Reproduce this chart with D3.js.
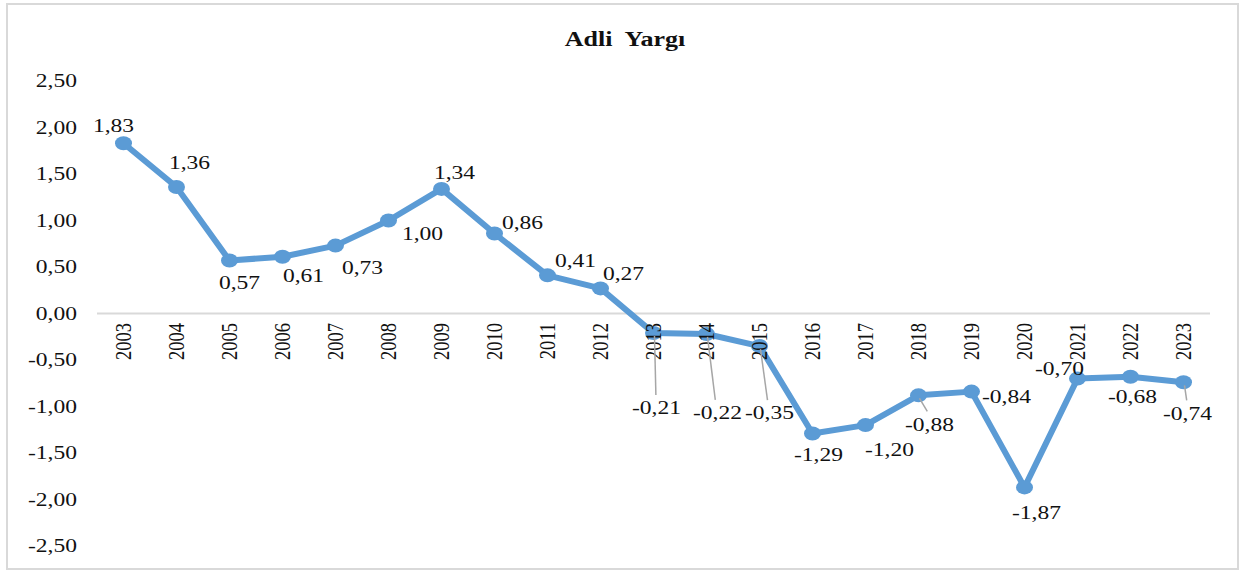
<!DOCTYPE html>
<html>
<head>
<meta charset="utf-8">
<script src="https://cdn.jsdelivr.net/npm/d3@7"></script>
<style>
  body { margin: 0; background: #fff; }
  svg { display: block; }
  text { font-family: "Liberation Serif", "Times New Roman", serif; fill: #111; white-space: pre; }
</style>
</head>
<body>
<svg id="chart" width="1244" height="572"></svg>
<script>
const years = ['2003', '2004', '2005', '2006', '2007', '2008', '2009', '2010', '2011', '2012',
    '2013', '2014', '2015', '2016', '2017', '2018', '2019', '2020', '2021', '2022', '2023'];
const values = [1.83, 1.36, 0.57, 0.61, 0.73, 1.00, 1.34, 0.86, 0.41, 0.27,
    -0.21, -0.22, -0.35, -1.29, -1.20, -0.88, -0.84, -1.87, -0.70, -0.68, -0.74];
const yTicks = [2.5, 2, 1.5, 1, 0.5, 0, -0.5, -1, -1.5, -2, -2.5];
const title = 'Adli  Yargı';

// where each data label sits relative to its marker (Excel placed them by hand)
const labelOffsets = [
    [-10, -18], [13, -24], [10, 22], [21, 19], [27, 22], [34, 13], [13, -16], [28, -11],
    [28, -15], [23, -15], [3, 75], [11, 79], [10, 67], [6, 21], [24, 25], [11, 29],
    [35, 5], [12, 25], [-18, -10], [2, 20], [4, 31]
];
const leaders = [10, 11, 12, 15, 20];

const blue = '#5b9bd5';
const grey = '#d9d9d9';
const sx = 1.24;   // the source picture is stretched sideways, text too
const fmt = v => d3.format('.2f')(v).replace('.', ',').replace('−', '-');

const svg = d3.select('#chart');

const x = d3.scalePoint().domain(years).range([97, 1210]).padding(0.5);
const y = d3.scaleLinear().domain([-2.5, 2.5]).range([546, 81]);

svg.append('rect')
    .attr('x', 7).attr('y', 4)
    .attr('width', 1231).attr('height', 565)
    .attr('fill', '#fff')
    .attr('stroke', grey)
    .attr('stroke-width', 2);

function stretchedText(g, tx, ty, str, size, extra) {
    return g.append('g')
        .attr('transform', `translate(${tx},${ty}) scale(${sx},1)` + (extra || ''))
        .append('text')
        .style('font-size', size + 'px')
        .attr('dominant-baseline', 'central')
        .text(str);
}

// title
stretchedText(svg, 625, 39, title, 21)
    .attr('text-anchor', 'middle')
    .style('font-weight', 'bold');

// y axis labels
const yAxis = svg.append('g');
yTicks.forEach(t => {
    stretchedText(yAxis, 77, y(t), fmt(t), 19).attr('text-anchor', 'end');
});

// zero line
svg.append('line')
    .attr('x1', 97).attr('x2', 1210)
    .attr('y1', y(0)).attr('y2', y(0))
    .attr('stroke', grey)
    .attr('stroke-width', 2);

// series
const line = d3.line()
    .x((d, i) => x(years[i]))
    .y(d => y(d));

svg.append('path')
    .datum(values)
    .attr('d', line)
    .attr('fill', 'none')
    .attr('stroke', blue)
    .attr('stroke-width', 6)
    .attr('stroke-linejoin', 'round');

svg.selectAll('ellipse.marker')
    .data(values)
    .enter()
    .append('ellipse')
    .attr('class', 'marker')
    .attr('cx', (d, i) => x(years[i]))
    .attr('cy', d => y(d))
    .attr('rx', 8.5)
    .attr('ry', 7)
    .attr('fill', blue);

// year labels drawn over the line, like the original
const xAxis = svg.append('g');
years.forEach(yr => {
    stretchedText(xAxis, x(yr), 323, yr, 18.5, ' rotate(-90)').attr('text-anchor', 'end');
});

// leader lines
svg.selectAll('line.leader')
    .data(leaders)
    .enter()
    .append('line')
    .attr('class', 'leader')
    .attr('x1', i => x(years[i]) + 1)
    .attr('y1', i => y(values[i]) + 3)
    .attr('x2', i => x(years[i]) + labelOffsets[i][0] * 0.8)
    .attr('y2', i => y(values[i]) + labelOffsets[i][1] - 13)
    .attr('stroke', '#a6a6a6')
    .attr('stroke-width', 1.5);

// data labels
const labels = svg.append('g');
values.forEach((v, i) => {
    stretchedText(labels, x(years[i]) + labelOffsets[i][0], y(v) + labelOffsets[i][1], fmt(v), 19)
        .attr('text-anchor', 'middle');
});
</script>
</body>
</html>
